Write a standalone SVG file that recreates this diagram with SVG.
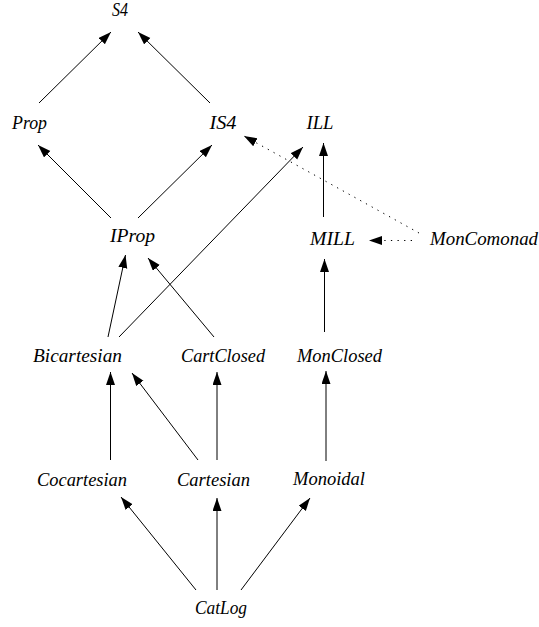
<svg xmlns="http://www.w3.org/2000/svg" width="539" height="627" viewBox="0 0 539 627">
<defs>
<style>
text{font-family:"Liberation Serif","Times New Roman",serif;font-style:italic;font-size:18px;fill:#000;text-anchor:middle}
.e{stroke:#000;stroke-width:1;fill:none;marker-end:url(#ah)}
.d{stroke-dasharray:1.3,5.3}
</style>
<marker id="ah" markerUnits="userSpaceOnUse" markerWidth="14" markerHeight="10" refX="13" refY="4.5" orient="auto">
<path d="M0,0 L13,4.5 L0,9 z" fill="#000"/>
</marker>
</defs>
<rect width="539" height="627" fill="#fff"/>
<g id="edges">
<line class="e" x1="39" y1="103" x2="111" y2="32"/>
<line class="e" x1="210" y1="103" x2="138" y2="32"/>
<line class="e" x1="111" y1="218" x2="38" y2="145"/>
<line class="e" x1="138" y1="218" x2="212" y2="145"/>
<line class="e" x1="323.5" y1="217" x2="323.5" y2="143"/>
<line class="e d" x1="419" y1="233" x2="244" y2="136"/>
<line class="e d" x1="412" y1="240.5" x2="369" y2="240.5"/>
<line class="e" x1="108" y1="337" x2="125.5" y2="255"/>
<line class="e" x1="119" y1="337" x2="303" y2="147"/>
<line class="e" x1="214" y1="337" x2="148" y2="258"/>
<line class="e" x1="324.5" y1="332" x2="324.5" y2="259"/>
<line class="e" x1="110.5" y1="460" x2="110.5" y2="372"/>
<line class="e" x1="198" y1="460" x2="132" y2="373"/>
<line class="e" x1="217" y1="460" x2="217" y2="372"/>
<line class="e" x1="326" y1="461" x2="326" y2="371"/>
<line class="e" x1="196" y1="590" x2="121" y2="497"/>
<line class="e" x1="217" y1="590" x2="217" y2="498"/>
<line class="e" x1="241" y1="590" x2="310" y2="498"/>
</g>
<g id="S4"><text x="120" y="16" textLength="16" lengthAdjust="spacingAndGlyphs">S4</text></g>
<g id="Prop"><text x="29.5" y="129" textLength="35" lengthAdjust="spacingAndGlyphs">Prop</text></g>
<g id="IS4"><text x="223" y="129" textLength="27" lengthAdjust="spacingAndGlyphs">IS4</text></g>
<g id="ILL"><text x="320" y="129" textLength="27" lengthAdjust="spacingAndGlyphs">ILL</text></g>
<g id="IProp"><text x="132.5" y="242" textLength="45" lengthAdjust="spacingAndGlyphs">IProp</text></g>
<g id="MILL"><text x="332.5" y="245" textLength="45" lengthAdjust="spacingAndGlyphs">MILL</text></g>
<g id="MonComonad"><text x="484" y="245" textLength="108" lengthAdjust="spacingAndGlyphs">MonComonad</text></g>
<g id="Bicartesian"><text x="77.5" y="362" textLength="89" lengthAdjust="spacingAndGlyphs">Bicartesian</text></g>
<g id="CartClosed"><text x="223" y="362" textLength="84" lengthAdjust="spacingAndGlyphs">CartClosed</text></g>
<g id="MonClosed"><text x="339.5" y="362" textLength="85" lengthAdjust="spacingAndGlyphs">MonClosed</text></g>
<g id="Cocartesian"><text x="82" y="486" textLength="90" lengthAdjust="spacingAndGlyphs">Cocartesian</text></g>
<g id="Cartesian"><text x="213.5" y="486" textLength="73" lengthAdjust="spacingAndGlyphs">Cartesian</text></g>
<g id="Monoidal"><text x="329" y="485" textLength="72" lengthAdjust="spacingAndGlyphs">Monoidal</text></g>
<g id="CatLog"><text x="221" y="614" textLength="52" lengthAdjust="spacingAndGlyphs">CatLog</text></g>
</svg>
